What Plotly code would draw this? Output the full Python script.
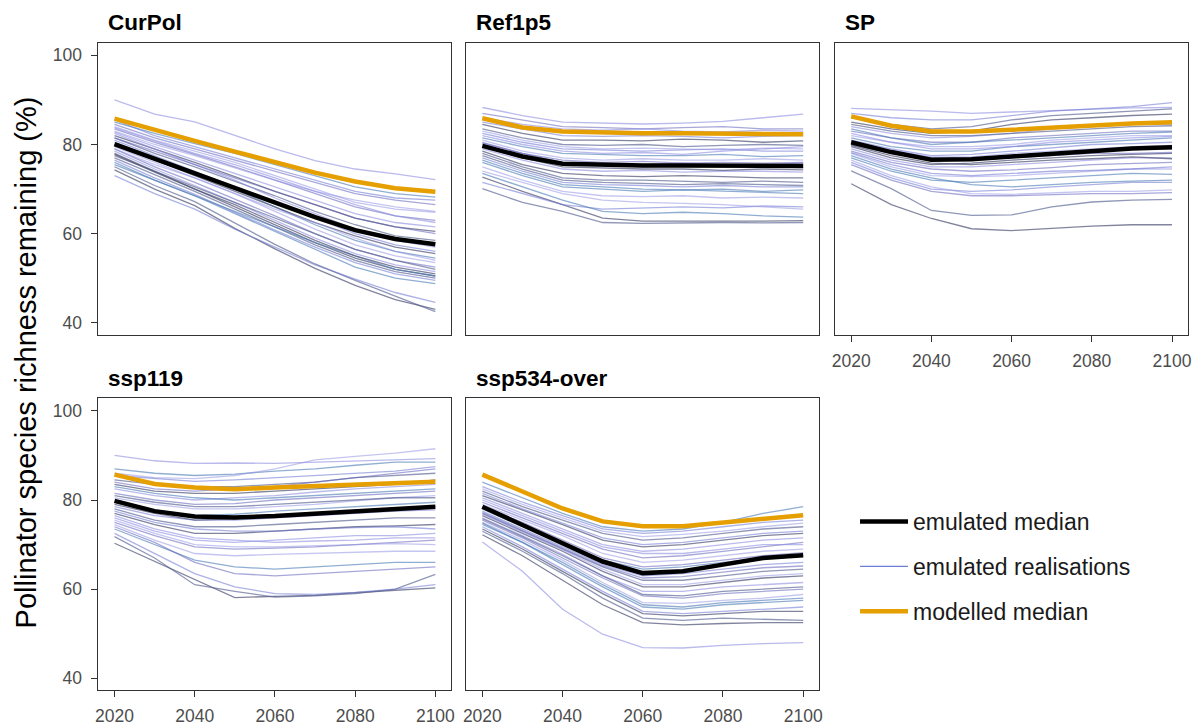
import plotly.graph_objects as go

years = [2020, 2030, 2040, 2050, 2060, 2070, 2080, 2090, 2100]
scenarios = ["CurPol", "Ref1p5", "SP", "ssp119", "ssp534-over"]
x_ticks = [2020, 2040, 2060, 2080, 2100]
y_ticks = [40, 60, 80, 100]

# ---- modelled median (orange) ----
curpol_modelled = [85.8, 83.2, 80.8, 78.4, 76.0, 73.7, 71.7, 70.2, 69.4]
ref1p5_modelled = [85.9, 83.8, 82.9, 82.6, 82.5, 82.5, 82.4, 82.3, 82.3]
sp_modelled = [86.3, 84.2, 82.9, 82.9, 83.3, 83.8, 84.3, 84.7, 85.0]
ssp119_modelled = [85.7, 83.6, 82.8, 82.4, 82.8, 83.1, 83.5, 83.8, 84.1]
ssp534_modelled = [85.7, 81.9, 78.1, 75.2, 74.1, 74.1, 75.0, 75.9, 76.6]

# ---- emulated median (black) ----
curpol_median = [80.1, 76.8, 73.6, 70.3, 67.0, 63.7, 60.8, 58.8, 57.6]
ref1p5_median = [79.7, 77.3, 75.7, 75.4, 75.3, 75.3, 75.2, 75.2, 75.2]
sp_median = [80.5, 78.3, 76.6, 76.7, 77.3, 77.9, 78.6, 79.1, 79.4]
ssp119_median = [79.8, 77.5, 76.3, 76.1, 76.4, 76.9, 77.5, 78.0, 78.5]
ssp534_median = [78.5, 74.4, 70.3, 66.2, 63.6, 64.0, 65.5, 67.0, 67.6]

# ---- emulated realisations ----
curpol_realisations = [
    [90.0, 86.8, 85.1, 82.0, 79.0, 76.4, 74.5, 73.4, 72.1],
    [74.3, 70.0, 66.3, 61.2, 56.6, 52.2, 48.4, 45.2, 43.0],
    [75.0, 70.8, 67.2, 62.4, 57.6, 53.2, 49.5, 46.0, 42.5],
    [73.0, 69.0, 65.5, 61.0, 57.0, 53.0, 49.8, 46.8, 44.6],
    [85.0, 82.5, 80.2, 78.0, 75.5, 73.0, 70.5, 69.0, 68.2],
    [84.0, 81.0, 78.5, 76.0, 73.0, 70.0, 67.0, 65.5, 64.8],
    [83.5, 80.5, 77.8, 75.0, 72.0, 69.0, 66.0, 64.0, 63.0],
    [82.8, 79.5, 76.5, 73.5, 70.5, 67.5, 64.5, 62.5, 61.5],
    [82.0, 79.0, 76.0, 72.8, 69.5, 66.5, 63.5, 61.5, 60.5],
    [81.5, 78.0, 75.0, 71.8, 68.5, 65.0, 62.0, 59.5, 58.5],
    [81.0, 77.5, 74.0, 70.5, 67.0, 63.5, 60.0, 57.5, 56.0],
    [80.5, 77.0, 73.5, 70.0, 66.0, 62.0, 58.5, 56.0, 54.5],
    [79.5, 76.0, 72.5, 69.0, 65.0, 61.0, 57.5, 55.0, 53.5],
    [79.0, 75.0, 71.5, 67.8, 64.0, 60.0, 56.5, 54.0, 52.5],
    [78.5, 74.5, 70.8, 67.0, 63.0, 59.0, 55.5, 53.0, 51.5],
    [78.0, 74.0, 70.0, 66.0, 62.0, 58.0, 54.5, 52.0, 50.5],
    [77.0, 73.2, 69.5, 65.5, 61.5, 57.5, 54.0, 51.5, 50.0],
    [76.5, 72.5, 68.8, 64.8, 60.8, 57.0, 53.5, 51.0, 49.5],
    [76.0, 72.0, 68.5, 64.5, 60.5, 56.5, 52.5, 50.0, 48.8],
    [83.0, 80.0, 77.5, 74.8, 72.0, 69.5, 67.5, 66.0, 65.0],
    [84.5, 81.5, 79.0, 76.5, 74.0, 71.5, 69.0, 67.5, 66.5],
    [82.5, 79.0, 75.5, 72.0, 68.0, 64.5, 61.0, 58.5, 57.0],
    [80.0, 76.5, 73.0, 69.5, 66.0, 62.5, 59.5, 57.0, 55.5],
    [77.5, 74.0, 70.5, 67.0, 63.5, 60.0, 56.5, 54.0, 52.0],
    [85.5, 82.0, 79.5, 77.0, 74.5, 72.0, 69.5, 68.0, 67.5],
    [75.5, 72.0, 68.5, 65.0, 61.5, 58.0, 55.0, 52.0, 50.5],
    [79.0, 75.5, 72.5, 69.0, 65.5, 62.5, 59.0, 56.0, 54.0],
    [81.5, 78.5, 75.5, 72.5, 69.5, 66.5, 63.5, 61.5, 60.0],
    [83.8, 80.8, 78.0, 75.5, 72.5, 69.5, 66.5, 64.0, 62.5],
    [77.8, 73.8, 70.0, 66.5, 62.5, 58.5, 55.0, 52.5, 51.0],
]

ref1p5_realisations = [
    [88.3, 86.5, 85.0, 84.8, 84.6, 84.8, 85.2, 86.0, 86.8],
    [72.7, 69.5, 66.5, 63.5, 62.8, 62.8, 62.7, 62.8, 62.9],
    [70.1, 67.0, 65.0, 62.5, 62.3, 62.4, 62.5, 62.4, 62.5],
    [71.5, 69.0, 66.5, 65.5, 65.8, 66.0, 65.8, 66.2, 66.0],
    [73.5, 70.5, 67.5, 65.0, 64.5, 64.8, 64.5, 64.0, 63.7],
    [74.0, 71.5, 69.0, 67.5, 67.0, 66.8, 66.5, 66.0, 65.5],
    [87.0, 85.5, 84.0, 83.8, 83.5, 83.8, 84.0, 83.5, 83.5],
    [86.0, 84.5, 83.5, 83.2, 83.5, 83.0, 82.8, 83.2, 83.0],
    [84.5, 82.5, 81.0, 81.0, 80.8, 81.2, 81.0, 80.5, 80.8],
    [83.5, 81.5, 80.0, 79.8, 80.0, 79.5, 79.8, 80.0, 79.8],
    [82.5, 80.5, 79.0, 78.8, 78.5, 78.8, 79.0, 78.5, 78.5],
    [81.5, 79.5, 78.0, 77.8, 77.5, 77.5, 77.8, 77.3, 77.5],
    [81.0, 78.5, 77.0, 76.5, 76.8, 76.5, 76.5, 76.8, 76.5],
    [80.0, 77.5, 75.8, 75.5, 75.0, 75.2, 75.5, 75.0, 74.8],
    [79.0, 76.5, 74.5, 74.0, 74.2, 73.8, 74.0, 74.0, 73.8],
    [78.5, 75.5, 73.5, 73.0, 72.8, 73.0, 72.8, 72.5, 72.5],
    [78.0, 75.0, 72.5, 72.0, 72.0, 71.8, 71.5, 71.8, 71.5],
    [77.0, 74.0, 71.5, 71.0, 70.8, 70.5, 70.8, 70.5, 70.5],
    [76.0, 73.0, 70.5, 70.0, 69.5, 69.8, 69.5, 69.2, 69.0],
    [75.0, 72.0, 69.5, 68.5, 68.3, 68.5, 68.0, 68.2, 68.0],
    [80.5, 78.0, 76.5, 76.0, 76.2, 75.8, 76.0, 75.8, 76.0],
    [82.0, 80.0, 78.5, 78.0, 78.2, 77.8, 78.5, 79.0, 79.5],
    [79.5, 77.0, 75.0, 74.8, 74.5, 74.5, 74.2, 74.5, 74.3],
    [77.5, 74.5, 72.0, 71.5, 71.3, 71.0, 71.2, 71.0, 70.8],
    [85.0, 83.5, 82.0, 81.8, 82.0, 81.8, 81.5, 81.8, 82.0],
    [76.5, 73.5, 71.0, 70.5, 70.0, 69.8, 70.0, 69.5, 69.8],
    [83.0, 81.0, 79.5, 79.0, 79.2, 79.0, 78.8, 79.2, 79.0],
    [80.3, 78.0, 76.0, 75.8, 75.5, 75.8, 75.5, 75.5, 75.8],
]

sp_realisations = [
    [88.1, 87.8, 87.5, 87.0, 87.3, 87.6, 88.0, 88.2, 88.3],
    [71.2, 66.5, 63.4, 61.1, 60.7, 61.2, 61.7, 62.0, 62.0],
    [74.1, 70.1, 65.2, 64.1, 64.2, 66.0, 67.1, 67.5, 67.7],
    [76.0, 72.5, 70.0, 69.5, 69.8, 70.5, 71.0, 71.5, 71.5],
    [77.0, 74.0, 72.0, 71.5, 72.0, 72.5, 73.0, 73.5, 73.3],
    [78.0, 75.0, 73.0, 72.8, 73.0, 73.5, 74.0, 74.5, 74.5],
    [78.5, 76.0, 74.5, 74.0, 74.3, 74.8, 75.5, 75.8, 76.0],
    [79.0, 76.5, 75.0, 75.0, 75.5, 76.0, 76.5, 77.0, 77.0],
    [79.5, 77.0, 75.5, 75.8, 76.5, 77.0, 77.5, 77.8, 78.0],
    [80.0, 78.0, 76.5, 76.8, 77.5, 78.0, 78.5, 79.0, 79.0],
    [81.0, 79.0, 77.5, 77.8, 78.5, 79.2, 80.0, 80.2, 80.5],
    [81.5, 79.5, 78.5, 78.5, 79.5, 80.0, 80.5, 81.0, 81.5],
    [82.0, 80.5, 79.5, 79.5, 80.0, 81.0, 81.5, 82.0, 82.0],
    [83.0, 81.5, 80.5, 80.5, 81.5, 82.0, 82.5, 83.0, 83.0],
    [84.0, 82.5, 81.5, 81.8, 82.5, 83.5, 84.0, 84.5, 84.5],
    [85.0, 83.5, 82.5, 83.0, 84.5, 85.5, 86.0, 86.5, 86.8],
    [86.0, 84.5, 83.5, 84.0, 85.5, 86.5, 87.0, 87.5, 88.0],
    [87.0, 86.0, 85.5, 85.5, 86.5, 87.5, 88.0, 88.5, 89.4],
    [77.5, 74.5, 72.5, 71.0, 70.5, 71.0, 71.5, 71.8, 72.0],
    [76.5, 73.0, 70.5, 69.0, 68.8, 69.2, 69.5, 69.5, 69.8],
    [80.5, 78.5, 77.0, 77.0, 77.0, 77.5, 78.0, 78.0, 78.2],
    [82.5, 80.5, 79.0, 79.0, 79.5, 80.5, 81.0, 81.5, 81.8],
    [79.8, 77.5, 75.8, 75.5, 76.0, 76.5, 76.8, 77.2, 76.8],
    [84.5, 83.0, 82.0, 82.0, 82.5, 83.0, 83.5, 84.0, 84.2],
    [78.2, 75.5, 73.5, 73.0, 73.5, 74.0, 74.2, 74.5, 75.0],
    [83.5, 81.5, 80.0, 80.5, 81.0, 81.5, 82.0, 82.5, 82.8],
    [80.8, 78.8, 77.2, 77.2, 78.0, 78.5, 79.0, 79.5, 79.8],
    [75.5, 72.0, 69.5, 68.5, 68.5, 68.8, 69.0, 69.0, 69.2],
]

ssp119_realisations = [
    [90.0, 88.8, 88.2, 88.3, 88.2, 88.5, 88.8, 89.0, 89.3],
    [70.3, 66.2, 62.1, 58.1, 58.4, 58.6, 59.2, 59.8, 60.3],
    [71.8, 67.0, 61.0, 59.5, 58.2, 58.5, 59.0, 60.0, 63.3],
    [72.5, 68.0, 63.5, 60.5, 59.0, 58.8, 59.3, 60.0, 61.0],
    [73.5, 70.0, 66.5, 65.0, 64.5, 65.0, 65.5, 66.0, 66.0],
    [74.5, 71.0, 68.0, 67.5, 67.8, 68.0, 68.3, 68.5, 68.5],
    [75.0, 72.0, 69.5, 69.0, 69.2, 69.5, 70.0, 70.5, 71.0],
    [76.0, 73.0, 71.0, 70.5, 71.0, 71.5, 72.0, 72.0, 72.5],
    [77.0, 74.5, 72.5, 72.5, 73.0, 73.5, 74.0, 74.2, 74.5],
    [78.0, 75.5, 74.0, 74.0, 74.5, 75.0, 75.5, 76.0, 76.0],
    [78.5, 76.5, 75.5, 75.5, 76.0, 76.5, 77.0, 77.5, 77.8],
    [79.5, 77.5, 76.5, 76.8, 77.5, 78.0, 78.5, 79.0, 79.5],
    [80.5, 79.0, 78.0, 78.0, 78.5, 79.0, 79.8, 80.5, 81.0],
    [81.5, 80.0, 79.0, 79.2, 80.0, 80.5, 81.0, 81.5, 82.0],
    [82.5, 81.0, 80.0, 80.5, 81.0, 81.8, 82.5, 83.0, 83.5],
    [83.5, 82.0, 81.5, 81.5, 82.0, 82.5, 83.0, 83.5, 84.5],
    [84.5, 83.5, 83.0, 83.0, 83.5, 84.0, 85.0, 85.5, 86.0],
    [85.5, 84.8, 84.2, 84.5, 85.0, 85.5, 86.0, 86.5, 87.5],
    [87.0, 86.0, 85.5, 85.8, 86.5, 87.0, 87.8, 88.5, 88.5],
    [86.0, 85.0, 84.8, 85.5, 87.0, 89.0, 89.8, 90.5, 91.5],
    [74.0, 70.5, 66.0, 63.5, 63.0, 63.5, 64.0, 64.5, 65.0],
    [76.5, 73.5, 71.5, 71.0, 70.5, 70.8, 71.0, 71.5, 71.5],
    [79.0, 77.0, 75.5, 75.8, 76.5, 77.0, 77.5, 78.0, 78.5],
    [81.0, 79.5, 78.5, 78.5, 79.0, 79.5, 80.0, 80.5, 80.5],
    [77.5, 75.0, 73.5, 73.0, 73.0, 73.5, 73.8, 74.0, 73.5],
    [83.0, 81.5, 80.5, 80.0, 80.5, 81.0, 81.5, 82.0, 82.5],
    [75.5, 72.5, 70.0, 69.5, 69.5, 69.8, 70.0, 70.2, 70.0],
    [84.0, 82.5, 82.0, 82.5, 83.0, 84.0, 85.0, 86.0, 87.0],
]

ssp534_realisations = [
    [70.6, 64.0, 55.5, 49.9, 46.9, 46.8, 47.4, 47.8, 48.0],
    [72.2, 67.5, 62.0, 56.5, 52.5, 52.0, 52.3, 52.5, 52.5],
    [73.0, 68.5, 63.5, 58.0, 53.5, 53.0, 53.5, 53.3, 53.0],
    [74.0, 69.5, 64.5, 59.5, 55.0, 54.5, 55.0, 55.5, 56.0],
    [74.5, 70.5, 65.5, 60.5, 56.0, 55.5, 56.5, 57.0, 57.5],
    [75.0, 71.0, 66.5, 61.5, 57.0, 56.8, 57.5, 58.0, 58.8],
    [75.5, 71.5, 67.0, 62.5, 58.5, 58.0, 59.0, 59.5, 60.0],
    [76.0, 72.0, 67.8, 63.0, 59.5, 59.5, 60.5, 61.0, 61.5],
    [76.5, 72.5, 68.5, 64.0, 60.5, 60.5, 61.5, 62.5, 63.0],
    [77.0, 73.0, 69.0, 65.0, 62.0, 62.0, 63.0, 64.0, 64.5],
    [77.5, 73.5, 69.5, 65.5, 63.0, 63.5, 64.5, 65.5, 66.0],
    [78.0, 74.0, 70.5, 66.5, 64.5, 65.0, 66.0, 67.0, 67.5],
    [79.0, 75.5, 72.0, 68.0, 66.0, 66.5, 67.5, 68.5, 69.0],
    [79.5, 76.0, 72.5, 69.0, 67.0, 67.5, 68.5, 69.5, 70.5],
    [80.5, 77.0, 73.5, 70.0, 68.5, 69.0, 70.0, 71.0, 71.5],
    [81.0, 77.8, 74.5, 71.0, 69.5, 70.0, 71.0, 72.0, 72.5],
    [82.0, 78.5, 75.5, 72.5, 71.0, 71.5, 72.5, 73.5, 74.0],
    [83.0, 79.5, 76.5, 73.5, 72.5, 73.0, 74.0, 75.0, 75.5],
    [84.0, 80.5, 77.0, 74.0, 73.0, 73.5, 75.0, 77.0, 78.5],
    [76.8, 72.8, 68.8, 64.5, 61.0, 61.0, 62.0, 63.0, 63.5],
    [78.5, 75.0, 71.0, 67.0, 65.0, 65.5, 66.5, 67.5, 68.2],
    [80.0, 76.5, 73.0, 69.5, 68.0, 68.0, 69.0, 70.0, 70.0],
    [73.5, 69.0, 64.0, 59.0, 54.5, 54.0, 54.5, 55.0, 55.0],
    [75.8, 71.8, 67.5, 63.0, 58.8, 58.5, 59.5, 60.0, 60.5],
    [81.5, 78.0, 74.8, 71.5, 70.0, 70.5, 71.5, 72.5, 73.0],
    [74.8, 70.5, 66.0, 61.0, 56.5, 56.0, 57.0, 57.5, 58.0],
    [82.5, 79.0, 76.0, 73.0, 71.8, 72.3, 73.0, 74.0, 74.8],
    [77.2, 73.2, 69.2, 65.2, 62.5, 62.8, 63.8, 64.8, 65.2],
]

modelled = [curpol_modelled, ref1p5_modelled, sp_modelled, ssp119_modelled, ssp534_modelled]
medians = [curpol_median, ref1p5_median, sp_median, ssp119_median, ssp534_median]
realisations = [curpol_realisations, ref1p5_realisations, sp_realisations,
                ssp119_realisations, ssp534_realisations]

# ---- styles ----
palette = [
    "rgba(140,140,225,0.60)",
    "rgba(75,80,115,0.70)",
    "rgba(85,95,145,0.65)",
    "rgba(105,115,210,0.55)",
    "rgba(70,120,180,0.60)",
    "rgba(150,150,230,0.55)",
    "rgba(95,95,185,0.55)",
]
ORANGE = "#E69F00"
OFF = 8          # page body margin of the html page
W = 1203 - OFF
H = 726 - OFF


def px_x(p):
    return (p - OFF) / W


def px_y(p):
    return 1 - (p - OFF) / H


panel_x = [(96, 451), (466, 821), (837, 1192), (96, 451), (466, 821)]
panel_y = [(43, 336), (43, 336), (43, 336), (400, 693), (400, 693)]
show_xlabels = [False, False, True, True, True]
show_ylabels = [True, False, False, True, False]

fig = go.Figure()

for i, sc in enumerate(scenarios):
    xa = "x" if i == 0 else f"x{i+1}"
    ya = "y" if i == 0 else f"y{i+1}"
    for j, r in enumerate(realisations[i]):
        fig.add_trace(go.Scatter(x=years, y=r, mode="lines",
                                 line=dict(color=palette[j % len(palette)], width=1.3),
                                 xaxis=xa, yaxis=ya, showlegend=False, hoverinfo="skip"))
    fig.add_trace(go.Scatter(x=years, y=medians[i], mode="lines",
                             line=dict(color="black", width=4.5),
                             xaxis=xa, yaxis=ya, name="emulated median",
                             legendgroup="a", showlegend=(i == 0), legendrank=1))
    fig.add_trace(go.Scatter(x=years, y=modelled[i], mode="lines",
                             line=dict(color=ORANGE, width=4.5),
                             xaxis=xa, yaxis=ya, name="modelled median",
                             legendgroup="c", showlegend=(i == 0), legendrank=3))

# legend entry for the realisations
fig.add_trace(go.Scatter(x=[None], y=[None], mode="lines",
                         line=dict(color="rgb(110,125,215)", width=1.3),
                         name="emulated realisations", legendgroup="b",
                         showlegend=True, legendrank=2))

layout = dict(
    width=W, height=H,
    margin=dict(l=0, r=0, t=0, b=0),
    paper_bgcolor="white", plot_bgcolor="white",
    font=dict(family="Liberation Sans, Arial, sans-serif", color="black"),
    legend=dict(x=px_x(857), y=px_y(502), xanchor="left", yanchor="top",
                font=dict(size=23, color="#1a1a1a"),
                tracegroupgap=12, itemwidth=48, bgcolor="rgba(0,0,0,0)"),
)

annotations = []
for i, sc in enumerate(scenarios):
    sfx = "" if i == 0 else str(i + 1)
    (x0, x1), (y0, y1) = panel_x[i], panel_y[i]
    xaxis = dict(domain=[px_x(x0), px_x(x1)], range=[2016, 2104],
                 tickvals=x_ticks, showgrid=False, zeroline=False,
                 showline=True, linecolor="#333333", linewidth=1, mirror=True,
                 anchor="y" + sfx,
                 ticks="outside" if show_xlabels[i] else "",
                 ticklen=6, tickcolor="#333333",
                 showticklabels=show_xlabels[i],
                 ticklabelstandoff=4,
                 tickfont=dict(size=17.5, color="#4d4d4d"))
    yaxis = dict(domain=[px_y(y1), px_y(y0)], range=[37.35, 102.8],
                 tickvals=y_ticks, showgrid=False, zeroline=False,
                 showline=True, linecolor="#333333", linewidth=1, mirror=True,
                 anchor="x" + sfx,
                 ticks="outside" if show_ylabels[i] else "",
                 ticklen=6, tickcolor="#333333",
                 showticklabels=show_ylabels[i],
                 ticklabelstandoff=6,
                 tickfont=dict(size=17.5, color="#4d4d4d"))
    layout["xaxis" + sfx] = xaxis
    layout["yaxis" + sfx] = yaxis
    annotations.append(dict(text="<b>" + sc + "</b>", xref="paper", yref="paper",
                            x=px_x(x0 + 8), y=px_y(y0 - 20), xanchor="left",
                            yanchor="middle", showarrow=False,
                            font=dict(size=22.5, color="black")))

annotations.append(dict(text="Pollinator species richness remaining (%)",
                        xref="paper", yref="paper", x=px_x(23), y=px_y(364),
                        xanchor="center", yanchor="middle", textangle=-90,
                        showarrow=False, font=dict(size=29, color="black")))
layout["annotations"] = annotations

fig.update_layout(**layout)
fig.write_html("out.html")
